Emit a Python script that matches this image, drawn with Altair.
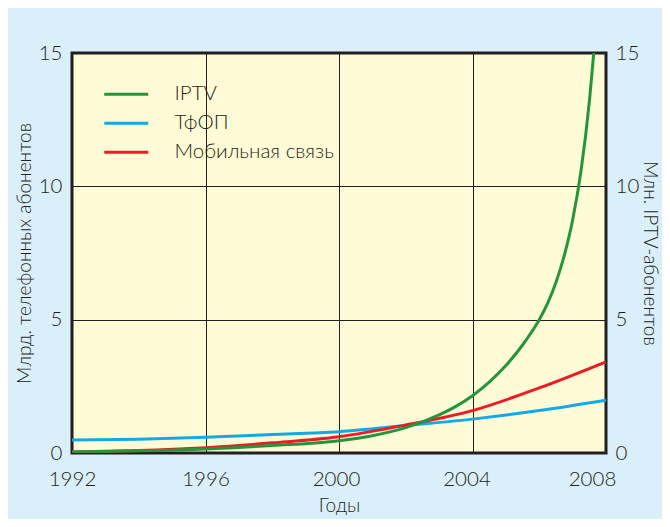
import altair as alt
import pandas as pd

series_names = ["IPTV", "ТфОП", "Мобильная связь"]
series_colors = ["#24953b", "#12a9e8", "#ec1c26"]

iptv_years = [1992, 1994, 1996, 1998, 2000, 2001, 2002, 2003, 2003.5, 2004, 2004.5, 2005,
              2005.5, 2005.75, 2006, 2006.25, 2006.5, 2006.75, 2007, 2007.25, 2007.5, 2007.75]
iptv_values = [0.04, 0.08, 0.15, 0.28, 0.46, 0.65, 0.95, 1.43, 1.75, 2.15, 2.66, 3.28,
               4.05, 4.5, 5.0, 5.61, 6.39, 7.41, 8.74, 10.57, 13.17, 16.8]

years = [1992, 1994, 1996, 1998, 2000, 2002, 2004, 2006, 2008]
pstn_values = [0.49, 0.52, 0.59, 0.69, 0.8, 1.03, 1.27, 1.59, 1.98]
mobile_values = [0.04, 0.09, 0.2, 0.38, 0.61, 1.05, 1.59, 2.44, 3.42]

x_ticks = [1992, 1996, 2000, 2004, 2008]
y_ticks = [0, 5, 10, 15]

rows = []
for yr, v in zip(iptv_years, iptv_values):
    rows.append({"year": yr, "value": v, "series": series_names[0]})
for yr, v in zip(years, pstn_values):
    rows.append({"year": yr, "value": v, "series": series_names[1]})
for yr, v in zip(years, mobile_values):
    rows.append({"year": yr, "value": v, "series": series_names[2]})
df = pd.DataFrame(rows)

FONT = "Lato"
TXT = "#231f20"

x_enc = alt.X(
    "year:Q",
    scale=alt.Scale(domain=[1992, 2008], nice=False, zero=False),
    axis=alt.Axis(values=x_ticks, format="d", title="Годы", grid=True,
                  gridColor="#231f20", gridWidth=1, ticks=False, domain=False,
                  labelFlush=False, labelPadding=16, titlePadding=7,
                  labelOffset=alt.ExprRef(
                      "datum.value == 2008 ? -14 : (datum.value == 2004 ? -6 : (datum.value == 2000 ? -3 : 0))")),
)

color_enc = alt.Color(
    "series:N",
    scale=alt.Scale(domain=series_names, range=series_colors),
    sort=series_names,
    legend=alt.Legend(
        title=None, orient="none", legendX=44, legendY=31, padding=0,
        symbolType="M-4.4,0H4.4", symbolSize=100, symbolStrokeWidth=3,
        rowPadding=8, labelOffset=38, labelFontSize=20.5,
        labelFont=FONT, labelColor=TXT, labelFontWeight=300,
    ),
)

left = alt.Chart(df).transform_filter(
    alt.FieldOneOfPredicate(field="series", oneOf=series_names[1:])
).mark_line(strokeWidth=3, interpolate="monotone", clip=True).encode(
    x=x_enc,
    y=alt.Y("value:Q", scale=alt.Scale(domain=[0, 15], nice=False),
            axis=alt.Axis(values=y_ticks, title="Млрд. телефонных абонентов",
                          orient="left", grid=True, gridColor="#231f20",
                          gridWidth=1, ticks=False, domain=False,
                          labelPadding=10, titlePadding=4)),
    color=color_enc,
)

right = alt.Chart(df).transform_filter(
    alt.FieldEqualPredicate(field="series", equal=series_names[0])
).mark_line(strokeWidth=3, interpolate="monotone", clip=True).encode(
    x=x_enc,
    y=alt.Y("value:Q", scale=alt.Scale(domain=[0, 15], nice=False),
            axis=alt.Axis(values=y_ticks, title="Млн. IPTV-абонентов",
                          orient="right", grid=False, ticks=False, domain=False,
                          labelPadding=9, titlePadding=1)),
    color=color_enc,
)

chart = alt.layer(left, right).resolve_scale(y="independent").properties(
    width=534, height=400,
    autosize=alt.AutoSizeParams(type="none"),
    padding={"left": 64, "top": 45, "right": 56, "bottom": 66},
    background="#daeffa",
).configure_view(
    fill="#fffbd6", stroke="#231f20", strokeWidth=3,
).configure_axis(
    labelFont=FONT, titleFont=FONT, labelFontSize=20.5, titleFontSize=19,
    labelColor=TXT, titleColor=TXT, labelFontWeight=300, titleFontWeight=300,
)

chart.save("out.html", embed_options={"renderer": "svg", "actions": False})
